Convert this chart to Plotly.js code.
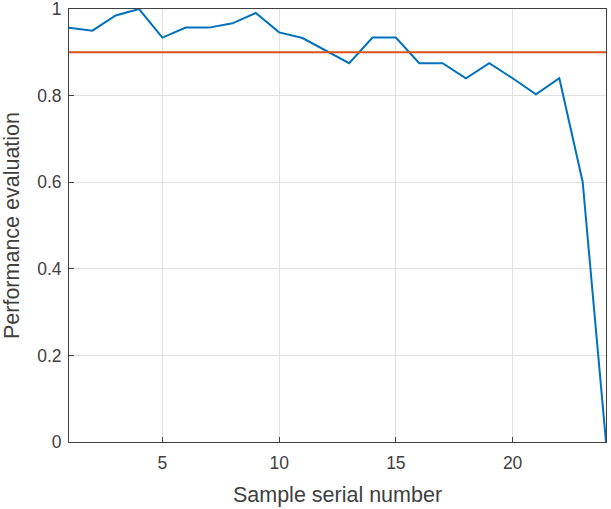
<!DOCTYPE html>
<html><head><meta charset="utf-8">
<script src="https://cdn.plot.ly/plotly-3.0.1.min.js"></script>
<style>html,body{margin:0;padding:0;background:#fff}#c{width:611px;height:509px}</style>
</head><body><div id="c"></div>
<script>
const sampleNo = [1,2,3,4,5,6,7,8,9,10,11,12,13,14,15,16,17,18,19,20,21,22,23,24];
const perf = [0.957,0.950,0.985,1.0,0.934,0.957,0.957,0.967,0.991,0.946,0.933,0.904,0.875,0.934,0.934,0.875,0.875,0.840,0.875,0.840,0.803,0.840,0.601,0.0];
const threshold = 0.9;
const xRange = [1,24];
const yTicks = [0,0.2,0.4,0.6,0.8,1];
const yTickText = ["0","0.2","0.4","0.6","0.8","1"];
const xTicks = [5,10,15,20];

const traces = [
  {x: sampleNo, y: perf, type:'scatter', mode:'lines', line:{color:'#0072BD', width:2}, hoverinfo:'skip'},
  {x: xRange, y: [threshold, threshold], type:'scatter', mode:'lines', line:{color:'#D95319', width:2}, hoverinfo:'skip'}
];
const fam = '"Liberation Sans", Arial, sans-serif';
const tickFont = {family:fam, size:17.5, color:'#404040'};
const titleFont = {family:fam, size:21.5, color:'#404040'};
const layout = {
  width:611, height:509,
  margin:{l:69, r:5, t:9, b:67},
  showlegend:false,
  paper_bgcolor:'#fff', plot_bgcolor:'#fff',
  font: tickFont,
  xaxis:{range:xRange, tickvals:xTicks, ticks:'inside', ticklen:5, tickcolor:'#404040', ticklabelstandoff:5,
    ticklabeloverflow:'allow',
    showgrid:true, gridcolor:'#e0e0e0', zeroline:false, showline:true, linecolor:'#404040', linewidth:1, mirror:true,
    automargin:false,
    tickfont:tickFont, title:{text:'Sample serial number', font:titleFont, standoff:14}},
  yaxis:{range:[0,1], tickvals:yTicks, ticktext:yTickText, ticks:'inside', ticklen:5, tickcolor:'#404040', ticklabelstandoff:3,
    ticklabeloverflow:'allow',
    showgrid:true, gridcolor:'#e0e0e0', zeroline:false, showline:true, linecolor:'#404040', linewidth:1, mirror:true,
    automargin:false,
    tickfont:tickFont, title:{text:'Performance evaluation', font:titleFont, standoff:11}}
};
Plotly.newPlot('c', traces, layout, {staticPlot:true});
</script></body></html>
